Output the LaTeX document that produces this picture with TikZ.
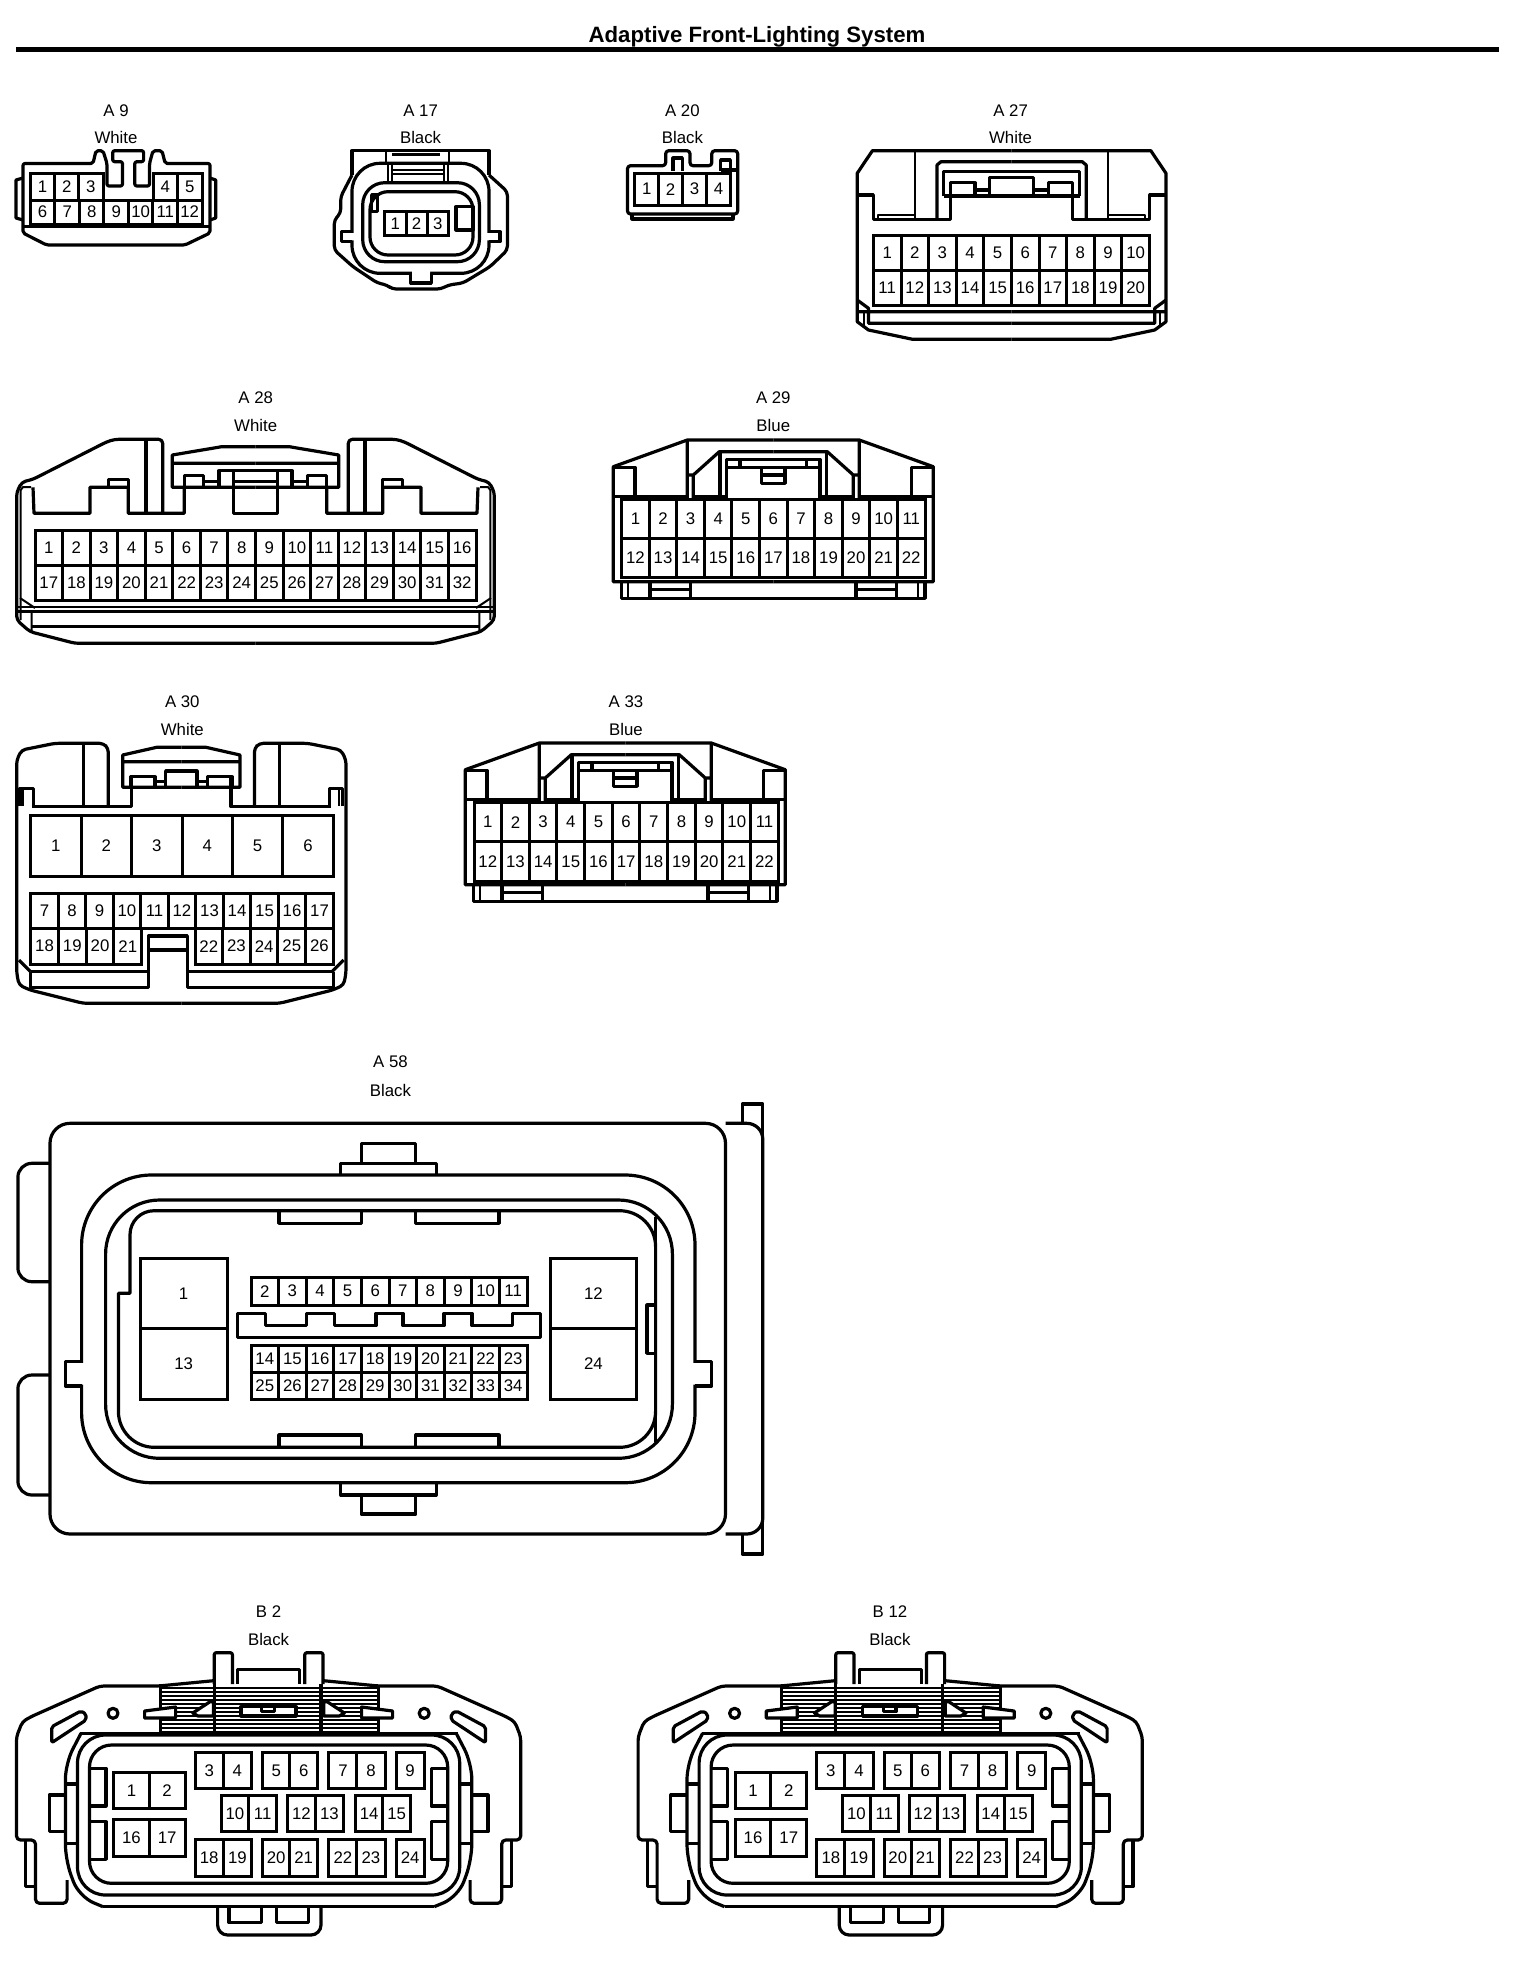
\documentclass[tikz,border=0pt]{standalone}
\usepackage{fontspec}
\setmainfont{Liberation Sans}
\tikzset{
 ol/.style={line width=1.6pt,line join=round},
 tl/.style={line width=1pt,line join=round},
 hl/.style={line width=.85pt},
 pin/.style={draw,line width=1.5pt,inner sep=0pt,font=\fontsize{8.4}{10}\selectfont},
 lab/.style={inner sep=0pt,font=\fontsize{8.4}{10}\selectfont},
 mirror/.style={shift={(#1,0)},xscale=-1}
}
\newcommand\pinrow[7]{%
 \foreach \n [count=\i from 0] in {#6,...,#7}{%
  \pgfmathsetmacro\cw{(#3-#2)/(#7-#6+1)}%
  \node[pin,minimum width=\cw*0.5pt,minimum height={(#5-#4)*0.5pt}] (#1-\n) at ({#2+(\i+0.5)*\cw},{(#4+#5)/2}) {\n};
 }}
\newcommand\conlabel[6]{%
 \node[lab] (#1name) at (#2,#3) {#5};
 \node[lab] (#1col) at (#2,#4) {#6};}
\newcommand\halfAtw{%
 \draw[ol] (1011.6,150.7)--(872.4,150.7)--(857.2,173.3)--(857.2,321.7)--(868.5,330)--(912.6,339.3)--(1011.6,339.3);
 \draw[tl] (915,150.7)--(915,219.3);
 \draw[ol] (937,219.3)--(937,165)--(941,161.7)--(1011.6,161.7);
 \draw[ol] (943.5,196)--(943.5,171.7)--(1011.6,171.7) (943.5,196)--(1011.6,196);
 \draw[ol] (950.4,196)--(950.4,182.7)--(975,182.7)--(975,196) (975,190)--(989.6,190) (989.6,196)--(989.6,177.3)--(1011.6,177.3);
 \draw[ol] (857.2,195)--(873.4,195)--(873.4,219.3)--(950.4,219.3)--(950.4,196);
 \draw[tl] (878.3,219.3)--(878.3,215)--(915,215);
 \draw[ol] (857.2,300)--(868.5,308.3)--(868.5,323.3)--(1011.6,323.3) (857.2,311.7)--(1011.6,311.7);
 \draw[tl] (863.6,311.7)--(863.6,327);
}
\newcommand\halfAte{%
 \draw[ol,rounded corners=2pt] (255.5,643.3)--(75,643.3)--(30,631.7)--(16.7,620)--(16.7,492)--(22,482)--(33,479.3)--(107,441.7)--(115,439.3)--(162.7,439.3)--(162.7,513.3);
 \draw[tl] (20.7,620)--(20.7,490)--(23,487)--(31,487);
 \draw[ol] (33,487.3)--(34,513.3)--(90,513.3)--(90,487.3)--(128.3,487.3)--(128.3,513.3)--(184.3,513.3)--(184.3,487.3);
 \draw[ol] (108.3,487.3)--(108.3,479.3)--(128.3,479.3)--(128.3,487.3);
 \draw[ol] (146,439.3)--(146,513.3);
 \draw[ol] (255.5,446.7)--(221.7,446.7)--(172.3,455)--(172.3,487.3)--(255.5,487.3) (172.3,463.3)--(255.5,463.3);
 \draw[ol] (184.3,487.3)--(184.3,475.7)--(203.3,475.7)--(203.3,487.3) (203.3,481.7)--(219,481.7) (219,487.3)--(219,470.7)--(255.5,470.7);
 \draw[ol] (233.3,470.7)--(233.3,513.3)--(255.5,513.3) (233.3,481.7)--(255.5,481.7);
 \draw[tl] (16.7,606.7)--(255.5,606.7);
 \draw[ol] (16.7,611.7)--(255.5,611.7) (31.7,626.7)--(255.5,626.7);
 \draw[tl] (31.7,611.7)--(31.7,631) (20,598)--(35,608);
}
\newcommand\halfAtn{%
 \draw[ol] (773.3,440)--(687.3,440)--(613.3,466.7)--(613.3,581.7)--(773.3,581.7);
 \draw[ol] (613.3,467.5)--(635,467.5)--(635,496.7) (613.3,496.7)--(687.3,496.7) (693.3,496.7)--(726.7,496.7);
 \draw[ol] (687.3,440)--(687.3,499) (693.3,499)--(693.3,475)--(719.3,451.7)--(773.3,451.7) (687.3,475)--(693.3,475);
 \draw[ol] (720,451.7)--(720,499) (726.7,499)--(726.7,459.3)--(773.3,459.3) (726.7,467.3)--(773.3,467.3) (740,459.3)--(740,467.3);
 \draw[ol] (761.7,467.3)--(761.7,483.3)--(773.3,483.3) (761.7,475)--(773.3,475);
 \draw[ol] (621.7,581.7)--(621.7,598.3)--(773.3,598.3) (650,581.7)--(650,598.3) (690.7,581.7)--(690.7,598.3) (650,589.3)--(690.7,589.3);
 \draw[tl] (628.3,581.7)--(628.3,598.3);
}
\newcommand\halfAtz{%
 \draw[ol,rounded corners=2pt] (181.35,1003.3)--(83.3,1003.3)--(30,990)--(19,985)--(16.7,973)--(16.7,760)--(21.7,750)--(55,743.3)--(103.3,743.3)--(108.3,748.3)--(108.3,806.7);
 \draw[ol] (83.3,743.3)--(83.3,806.7);
 \draw[ol] (20,806)--(20,788.3)--(33.3,788.3)--(33.3,806.7);
 \draw[tl] (23.3,790)--(23.3,806);
 \draw[ol] (31.7,806.7)--(131.7,806.7)--(131.7,777);
 \draw[ol] (181.35,747.3)--(156.7,747.3)--(122.7,755)--(122.7,787.3)--(181.35,787.3) (122.7,761.7)--(181.35,761.7);
 \draw[ol] (130.7,787.3)--(130.7,776.7)--(155,776.7)--(155,787.3) (155,781.7)--(165.7,781.7) (165.7,787.3)--(165.7,771)--(181.35,771);
 \draw[ol] (19,960)--(30.7,971.7);
}
\newcommand\halfB{%
 \draw[ol,rounded corners=2pt] (213.5,1680.7)--(158.4,1686)--(99.9,1686)--(31,1716.7)--(22.4,1721.7)--(16.5,1736.7)--(16.5,1840)--(35.5,1840)--(35.5,1903.3)--(67.1,1903.3)--(67.1,1880);
 \draw[ol] (25.8,1840)--(25.8,1886.7)--(35.5,1886.7);
 \draw[ol] (65.4,1795)--(49.2,1795)--(49.2,1831.7)--(65.4,1831.7);
 \draw[ol,rounded corners=1pt] (51.7,1726.7)--(80.9,1711)--(86,1714)--(86,1720)--(51.7,1742.7)--cycle;
 \draw[ol] (113,1713.3) circle[radius=5];
 \draw[ol,rounded corners=1pt] (214.2,1684)--(214.2,1652.7)--(232.4,1652.7)--(232.4,1684);
 \draw[ol,fill=white] (144.6,1718)--(144.6,1711)--(175.6,1707)--(175.6,1718)--cycle;
 \draw[ol,fill=white] (192.8,1713)--(210,1701.7)--(213.5,1701.7)--(213.5,1716)--(198,1716)--cycle;
 \draw[ol,rounded corners=8pt] (81,1733.3)--(65.4,1763.3)--(65.4,1860)--(79,1896.7)--(103,1906.7);
 \draw[ol] (65.4,1784)--(77.5,1784) (65.4,1843.3)--(77.5,1843.3);
 \draw[ol] (89.5,1768.3)--(106,1768.3)--(106,1806)--(89.5,1806) (89.5,1821.7)--(106,1821.7)--(106,1859.3)--(89.5,1859.3);
}
\newcommand\fullB[1]{%
 \foreach \yy in {1688,1692,...,1732}{\draw[hl] (160.1,\yy)--(378.8,\yy);}
 \draw[ol] (160.1,1686)--(160.1,1733) (378.8,1686)--(378.8,1733) (214.2,1684)--(214.2,1733) (321,1684)--(321,1733);
 \halfB
 \begin{scope}[mirror=537.2]\halfB\end{scope}
 \draw[ol] (237.6,1684)--(237.6,1669.3)--(299.6,1669.3)--(299.6,1684);
 \draw[ol,fill=white] (241,1706.7) rectangle (296,1716);
 \draw[ol] (261.7,1706.7)--(261.7,1711.5)--(274.4,1711.5)--(274.4,1706.7);
 \draw[ol] (80,1733.3)--(458,1733.3);
 \draw[ol] (103,1906.7)--(434,1906.7);
 \draw[ol,rounded corners=14pt] (77.5,1735) rectangle (459.7,1895);
 \draw[ol,rounded corners=11pt] (89.5,1745) rectangle (447.7,1883.3);
 \draw[ol] (217.6,1906.7)[rounded corners=5pt]--(217.6,1935)--(321,1935)--(321,1906.7);
 \draw[ol] (229,1906.7)--(229,1922.7)--(261.7,1922.7)--(261.7,1906.7) (276.5,1906.7)--(276.5,1922.7)--(308.2,1922.7)--(308.2,1906.7);
 \pinrow{#1}{113.6}{185}{1772.7}{1808.3}{1}{2}
 \pinrow{#1}{195.2}{251.4}{1752.7}{1788.3}{3}{4}
 \pinrow{#1}{262.4}{317.5}{1752.7}{1788.3}{5}{6}
 \pinrow{#1}{328.9}{385}{1752.7}{1788.3}{7}{8}
 \pinrow{#1}{396}{424.2}{1752.7}{1788.3}{9}{9}
 \pinrow{#1}{221}{276.5}{1795}{1831.7}{10}{11}
 \pinrow{#1}{287.5}{343.3}{1795}{1831.7}{12}{13}
 \pinrow{#1}{355.4}{410.5}{1795}{1831.7}{14}{15}
 \pinrow{#1}{113.6}{185}{1819.3}{1856}{16}{17}
 \pinrow{#1}{195.2}{251.4}{1839.3}{1876}{18}{19}
 \pinrow{#1}{262.4}{317.5}{1839.3}{1876}{20}{21}
 \pinrow{#1}{328.9}{385}{1839.3}{1876}{22}{23}
 \pinrow{#1}{396}{424.2}{1839.3}{1876}{24}{24}
}
\begin{document}
\begin{tikzpicture}[x=0.5pt,y=-0.5pt]
\useasboundingbox[fill=white] (0,0) rectangle (1536,1966);
% title
\node[inner sep=0pt,font=\fontsize{11.1}{13}\bfseries\selectfont] (title) at (757,37) {Adaptive Front-Lighting System};
\coordinate (ruleL) at (16,49.3); \coordinate (ruleR) at (1499,49.3);
\draw[line width=2.35pt] (ruleL)--(ruleR);
% A9
\conlabel{a9}{116}{111}{137}{A 9}{White}
\draw[ol,rounded corners=1pt] (23,233)--(23,163.5)--(93,163.5)--(96,150.7)--(103,150.7)--(107,163.5)--(107,186)--(122.5,186)--(122.5,161.7)--(112.7,161.7)--(112.7,150.7)--(143.6,150.7)--(143.6,161.7)--(134.8,161.7)--(134.8,186)--(149.5,186)--(149.5,163.5)--(153,150.7)--(162,150.7)--(165.2,163.5)--(210,163.5)--(210,233)--(185,245)--(46.6,245)--cycle;
\draw[ol] (23,226.7)--(210,226.7);
\draw[ol] (23,178)--(16,180)--(16,218)--(23,220) (210,178)--(215.7,180)--(215.7,218)--(210,220);
\pinrow{a9}{30.4}{103}{173.3}{200}{1}{3}
\pinrow{a9}{153}{202}{173.3}{200}{4}{5}
\pinrow{a9}{30.4}{202}{200}{224}{6}{12}
% A17
\conlabel{a17}{420.6}{111}{137}{A 17}{Black}
\draw[ol] (352,175)--(352,150.7)--(489,150.7)--(489,175);
\draw[ol] (392,154.5)--(440,154.5);
\draw[tl] (385.8,150.7)--(385.8,163.3) (448.5,150.7)--(448.5,163.3);
\draw[ol,rounded corners=2pt] (352,175)--(340.7,196.7)--(340.7,213)--(334.3,220)--(334.3,250)--(353,266.7)--(377.5,283)--(387,285)--(392,289)--(441,289)--(448.5,285)--(463,283)--(490,266.7)--(507.4,250)--(507.4,191.7)--(489,175);
\draw[ol,rounded corners=14pt] (352,163.3) rectangle (489,273.3);
\fill[white] (348,233) rectangle (356,240.4) (485,233) rectangle (493,240.4) (412,270) rectangle (430,276.5);
\draw[ol] (352,231.7)--(341.7,231.7)--(341.7,241.7)--(352,241.7) (489,231.7)--(500,231.7)--(500,241.7)--(489,241.7) (410.8,273.3)--(410.8,283)--(431.4,283)--(431.4,273.3);
\draw[tl] (388,163.3)--(388,182.7) (392,163.3)--(392,182.7) (444,163.3)--(444,182.7) (448,163.3)--(448,182.7) (392,170)--(444,170) (392,174)--(444,174);
\draw[ol,rounded corners=11pt] (362.7,182.7) rectangle (479.4,261.7);
\draw[ol,rounded corners=9pt] (370,191.7) rectangle (473,255);
\draw[ol] (371.6,195) rectangle (377.5,211.7);
\draw[ol] (456,206.7) rectangle (473,230);
\pinrow{a17}{384.8}{448.5}{211.7}{235}{1}{3}
% A20
\conlabel{a20}{682.4}{111}{137}{A 20}{Black}
\draw[ol,rounded corners=1.5pt] (627.5,214)--(627.5,165.7)--(665.7,165.7)--(665.7,150.7)--(690,150.7)--(690,165.7)--(711.8,165.7)--(711.8,150.7)--(737.7,150.7)--(737.7,214)--cycle;
\draw[ol] (632,214)--(632,219)--(733,219)--(733,214);
\draw[ol] (673,171)--(673,158)--(682.4,158)--(682.4,171);
\draw[ol] (720.6,171)--(720.6,160)--(730.4,160)--(730.4,171) (720.6,170)--(737.7,170);
\pinrow{a20}{634.8}{730.4}{173.3}{205}{1}{4}
% A27
\conlabel{a27}{1010.6}{111}{137}{A 27}{White}
\halfAtw
\begin{scope}[mirror=2023.2]\halfAtw\end{scope}
\pinrow{a27}{873.4}{1149.4}{235}{270}{1}{10}
\pinrow{a27}{873.4}{1149.4}{270}{305}{11}{20}
% A28
\conlabel{a28}{255.7}{397.3}{425}{A 28}{White}
\halfAte
\begin{scope}[mirror=511]\halfAte\end{scope}
\pinrow{a28}{35}{476}{530}{565}{1}{16}
\pinrow{a28}{35}{476}{565}{600}{17}{32}
% A29
\conlabel{a29}{773.3}{397.3}{425}{A 29}{Blue}
\halfAtn
\begin{scope}[mirror=1546.6]\halfAtn\end{scope}
\pinrow{a29}{621.7}{925}{499.3}{538.3}{1}{11}
\pinrow{a29}{621.7}{925}{538.3}{577.3}{12}{22}
% A30
\conlabel{a30}{182.3}{702}{729}{A 30}{White}
\halfAtz
\begin{scope}[mirror=362.7]\halfAtz\end{scope}
\draw[ol] (30.7,971.7)--(148.3,971.7) (187.3,971.7)--(333.3,971.7) (30.7,971.7)--(30.7,987.3)--(148.3,987.3)--(148.3,936)--(187.3,936)--(187.3,987.3)--(333.3,987.3)--(333.3,971.7) (148.3,950)--(187.3,950);
\pinrow{a30}{30.7}{333.3}{815}{876.7}{1}{6}
\pinrow{a30}{30.7}{333.3}{893.3}{928.3}{7}{17}
\pinrow{a30}{30.7}{141.7}{928.3}{964}{18}{21}
\pinrow{a30}{195}{333.3}{928.3}{964}{22}{26}
% A33
\conlabel{a33}{626}{702}{729}{A 33}{Blue}
\begin{scope}[shift={(-148,303)}]
\halfAtn
\begin{scope}[mirror=1546.6]\halfAtn\end{scope}
\end{scope}
\pinrow{a33}{474}{778.3}{802.7}{841.7}{1}{11}
\pinrow{a33}{474}{778.3}{841.7}{881.7}{12}{22}
% A58
\conlabel{a58}{390.5}{1062}{1090}{A 58}{Black}
\draw[ol,rounded corners=10pt] (725.5,1123.3)--(50,1123.3)--(50,1534)--(725.5,1534)--cycle;
\draw[ol,rounded corners=8pt] (725.5,1123.3)--(762.8,1123.3)--(762.8,1534)--(725.5,1534);
\draw[ol] (742.3,1123.3)--(742.3,1104)--(762.8,1104)--(762.8,1554)--(742.3,1554)--(742.3,1534);
\draw[ol,rounded corners=7pt] (50,1163.3)--(17.9,1163.3)--(17.9,1281.7)--(50,1281.7);
\draw[ol,rounded corners=7pt] (50,1375)--(17.9,1375)--(17.9,1495)--(50,1495);
\draw[ol] (361.2,1163.3)--(361.2,1143.3)--(415.8,1143.3)--(415.8,1163.3);
\draw[ol] (340.8,1175)--(340.8,1163.3)--(436.2,1163.3)--(436.2,1175);
\draw[ol] (340.8,1483.3)--(340.8,1495)--(436.2,1495)--(436.2,1483.3);
\draw[ol] (361.2,1495)--(361.2,1514)--(415.8,1514)--(415.8,1495);
\draw[ol,rounded corners=35pt] (81.6,1175) rectangle (695,1482.7);
\fill[white] (78,1363) rectangle (85.5,1384.7) (691,1363) rectangle (699,1384.7);
\draw[ol] (81.6,1361.7)--(65.3,1361.7)--(65.3,1386)--(81.6,1386) (695,1361.7)--(711.7,1361.7)--(711.7,1386)--(695,1386);
\draw[ol,rounded corners=27pt] (105.6,1200) rectangle (672.4,1458.3);
\draw[ol] (130,1293.3)[rounded corners=12pt]--(130,1210.7)[rounded corners=18pt]--(655.6,1210.7)--(655.6,1447.3)--(118.4,1447.3)[sharp corners]--(118.4,1293.3)--cycle;
\draw[ol] (655.6,1216.7)--(655.6,1441.7);
\draw[ol] (279,1210.7)--(279,1223.3)--(361.2,1223.3)--(361.2,1210.7) (415.8,1210.7)--(415.8,1223.3)--(499,1223.3)--(499,1210.7);
\draw[ol] (279,1447.3)--(279,1435)--(361.2,1435)--(361.2,1447.3) (415.8,1447.3)--(415.8,1435)--(499,1435)--(499,1447.3);
\draw[ol] (655.6,1305)--(647,1305)--(647,1353.3)--(655.6,1353.3);
\draw[ol] (237.2,1313.3)--(265.3,1313.3)--(265.3,1325.7)--(306.1,1325.7)--(306.1,1313.3)--(334.2,1313.3)--(334.2,1325.7)--(376,1325.7)--(376,1313.3)--(403,1313.3)--(403,1325.7)--(443.9,1325.7)--(443.9,1313.3)--(471.9,1313.3)--(471.9,1325.7)--(512.8,1325.7)--(512.8,1313.3)--(540.8,1313.3)--(540.8,1337.3)--(237.2,1337.3)--cycle;
\node[pin,minimum width=43.35pt,minimum height=35pt] (a58-1) at (183.65,1293.3) {1};
\node[pin,minimum width=43.35pt,minimum height=35.5pt] (a58-13) at (183.65,1363.8) {13};
\node[pin,minimum width=43.35pt,minimum height=35pt] (a58-12) at (593.35,1293.3) {12};
\node[pin,minimum width=43.35pt,minimum height=35.5pt] (a58-24) at (593.35,1363.8) {24};
\pinrow{a58}{251}{527}{1277.3}{1305}{2}{11}
\pinrow{a58}{251}{527}{1345}{1372.7}{14}{23}
\pinrow{a58}{251}{527}{1372.7}{1399.3}{25}{34}
% B2
\conlabel{b2}{268.6}{1612}{1639}{B 2}{Black}
\fullB{b2}
% B12
\begin{scope}[shift={(621.6,0)}]
\conlabel{b12}{268.4}{1612}{1639}{B 12}{Black}
\fullB{b12}
\end{scope}
\end{tikzpicture}
\end{document}
